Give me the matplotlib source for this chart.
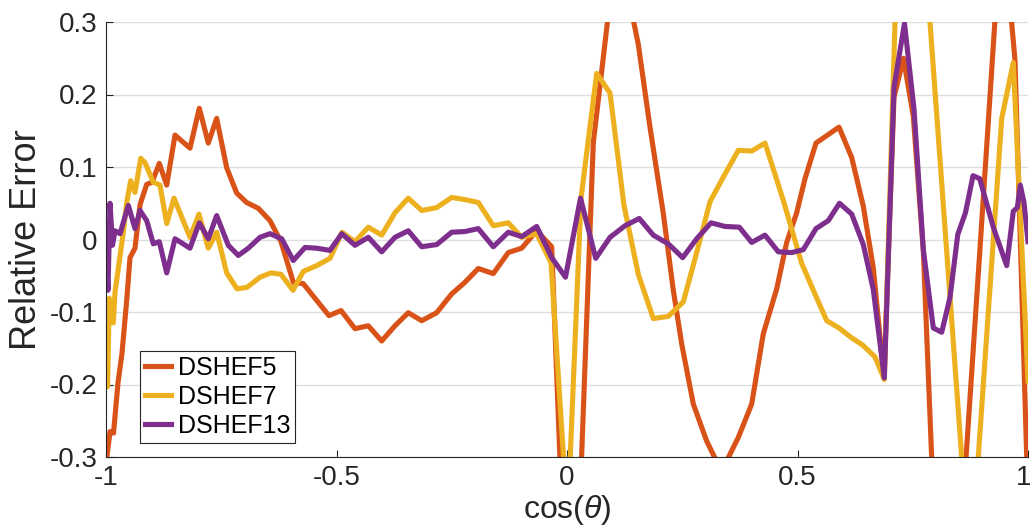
import matplotlib
matplotlib.use("Agg")
import matplotlib.pyplot as plt
import matplotlib.transforms as mtransforms

plt.rcParams['font.family'] = ['Liberation Sans', 'DejaVu Sans']
plt.rcParams['mathtext.fontset'] = 'custom'
plt.rcParams['mathtext.it'] = 'Liberation Sans:italic'
plt.rcParams['axes.unicode_minus'] = False

# DSHEF5 (orange)
x5 = [-1.0, -0.9913, -0.9837, -0.9740, -0.9653, -0.9551, -0.9479, -0.9371, -0.9262, -0.9117,
      -0.9002, -0.8844, -0.8683, -0.8503, -0.8178, -0.7976, -0.7781, -0.7599, -0.7382, -0.7165,
      -0.6948, -0.6696, -0.6443, -0.6204, -0.5937, -0.5720, -0.5430, -0.5163, -0.4902, -0.4599,
      -0.4310, -0.4020, -0.3731, -0.3443, -0.3152, -0.2827, -0.2501, -0.2213, -0.1924, -0.1599,
      -0.1273, -0.0983, -0.0657, -0.0332, 0.0087, 0.0570, 0.1085, 0.1547, 0.1800, 0.2089,
      0.2306, 0.2488, 0.2740, 0.3030, 0.3351, 0.3716, 0.4006, 0.4258, 0.4549, 0.4766,
      0.4983, 0.5163, 0.5401, 0.5900, 0.6176, 0.6427, 0.6644, 0.6876, 0.7093, 0.7299,
      0.7512, 0.7729, 0.8191, 0.8959, 0.9436, 0.9718, 1.0]
y5 = [-0.31, -0.265, -0.267, -0.198, -0.157, -0.084, -0.025, -0.012, 0.048, 0.076,
      0.079, 0.105, 0.075, 0.144, 0.126, 0.181, 0.133, 0.167, 0.099, 0.064,
      0.051, 0.043, 0.026, -0.003, -0.059, -0.061, -0.084, -0.105, -0.098, -0.123,
      -0.119, -0.140, -0.119, -0.101, -0.112, -0.101, -0.075, -0.059, -0.040, -0.047,
      -0.018, -0.012, 0.012, -0.010, -0.692, 0.133, 0.413, 0.269, 0.155, 0.036,
      -0.070, -0.144, -0.227, -0.278, -0.320, -0.273, -0.227, -0.130, -0.068, -0.004,
      0.037, 0.084, 0.133, 0.155, 0.113, 0.046, -0.039, -0.191, 0.196, 0.250,
      0.170, -0.015, -0.743, -0.012, 0.450, 0.247, -0.360]

# DSHEF7 (yellow)
x7 = [-1.0, -0.9967, -0.9928, -0.9842, -0.9805, -0.9733, -0.9625, -0.9551, -0.9464, -0.9371,
      -0.9247, -0.9154, -0.8974, -0.8829, -0.8683, -0.8525, -0.8178, -0.7983, -0.7781, -0.7599,
      -0.7382, -0.7158, -0.6941, -0.6659, -0.6421, -0.6204, -0.5944, -0.5720, -0.5430, -0.5141,
      -0.4881, -0.4599, -0.4310, -0.4020, -0.3731, -0.3443, -0.3152, -0.2827, -0.2501, -0.2213,
      -0.1924, -0.1599, -0.1273, -0.0983, -0.0657, -0.0347, 0.0013, 0.0304, 0.0644, 0.0933,
      0.1236, 0.1547, 0.1872, 0.2197, 0.2523, 0.2813, 0.3102, 0.3390, 0.3716, 0.4006,
      0.4295, 0.4692, 0.5091, 0.5343, 0.5633, 0.5900, 0.6161, 0.6421, 0.6681, 0.6883,
      0.7336, 0.8746, 0.9430, 0.9681, 1.0]
y7 = [-0.167, -0.203, -0.081, -0.115, -0.073, -0.040, 0.010, 0.051, 0.081, 0.065,
      0.112, 0.106, 0.079, 0.075, 0.022, 0.057, 0.003, 0.035, -0.012, 0.010,
      -0.046, -0.068, -0.066, -0.052, -0.046, -0.048, -0.070, -0.044, -0.036, -0.026,
      0.010, -0.003, 0.017, 0.006, 0.037, 0.057, 0.040, 0.044, 0.058, 0.055,
      0.051, 0.019, 0.023, 0.003, 0.008, -0.032, -0.387, 0.057, 0.229, 0.202,
      0.047, -0.048, -0.109, -0.106, -0.086, -0.018, 0.052, 0.086, 0.123, 0.122,
      0.133, 0.054, -0.033, -0.070, -0.112, -0.122, -0.135, -0.146, -0.162, -0.193,
      0.769, -0.461, 0.167, 0.244, -0.195]

# DSHEF13 (purple)
x13 = [-1.0, -0.9957, -0.9913, -0.9859, -0.9805, -0.9696, -0.9516, -0.9371, -0.9262, -0.9117,
       -0.8974, -0.8844, -0.8683, -0.8503, -0.8178, -0.7976, -0.7781, -0.7599, -0.7347, -0.7130,
       -0.6913, -0.6659, -0.6443, -0.6189, -0.5937, -0.5683, -0.5430, -0.5141, -0.4887, -0.4599,
       -0.4310, -0.4020, -0.3731, -0.3443, -0.3152, -0.2827, -0.2501, -0.2213, -0.1924, -0.1599,
       -0.1273, -0.0983, -0.0657, -0.0332, -0.0033, 0.0293, 0.0623, 0.0933, 0.1258, 0.1568,
       0.1872, 0.2197, 0.2510, 0.2813, 0.3124, 0.3427, 0.3738, 0.4006, 0.4295, 0.4584,
       0.4874, 0.5126, 0.5401, 0.5668, 0.5911, 0.6176, 0.6427, 0.6644, 0.6883, 0.7093,
       0.7321, 0.7527, 0.7729, 0.7946, 0.8128, 0.8308, 0.8477, 0.8644, 0.8807, 0.8952,
       0.9247, 0.9538, 0.9681, 0.9768, 0.9833, 0.9913, 1.0]
y13 = [-0.015, -0.070, 0.050, -0.008, 0.012, 0.008, 0.047, 0.015, 0.040, 0.026,
       -0.006, -0.003, -0.046, 0.001, -0.012, 0.023, 0.001, 0.033, -0.008, -0.022,
       -0.012, 0.003, 0.008, 0.001, -0.029, -0.011, -0.012, -0.015, 0.008, -0.008,
       0.003, -0.017, 0.003, 0.012, -0.010, -0.007, 0.010, 0.011, 0.015, -0.010,
       0.010, 0.004, 0.018, -0.025, -0.052, 0.057, -0.026, 0.003, 0.019, 0.029,
       0.006, -0.006, -0.025, 0.001, 0.023, 0.018, 0.017, -0.004, 0.006, -0.017,
       -0.018, -0.014, 0.015, 0.026, 0.050, 0.035, -0.007, -0.069, -0.191, 0.210,
       0.298, 0.180, -0.014, -0.122, -0.128, -0.080, 0.007, 0.037, 0.088, 0.084,
       0.017, -0.036, 0.039, 0.044, 0.075, 0.051, -0.003]

xticks = [-1, -0.5, 0, 0.5, 1]
xtick_labels = ['-1', '-0.5', '0', '0.5', '1']
yticks = [-0.3, -0.2, -0.1, 0, 0.1, 0.2, 0.3]
ytick_labels = ['-0.3', '-0.2', '-0.1', '0', '0.1', '0.2', '0.3']

fig = plt.figure(figsize=(10.30, 5.31), dpi=100)
ax = fig.add_axes([106 / 1030, 74 / 531, 922 / 1030, 435 / 531])

lw = 3.7
ax.plot(x5, y5, color='#D95319', lw=lw, label='DSHEF5')
ax.plot(x7, y7, color='#EDB120', lw=lw, label='DSHEF7')
ax.plot(x13, y13, color='#7E2F8E', lw=lw, label='DSHEF13')

ax.set_xlim(-1, 1)
ax.set_ylim(-0.3, 0.3)
ax.set_xticks(xticks)
ax.set_xticklabels(xtick_labels)
ax.set_yticks(yticks)
ax.set_yticklabels(ytick_labels)
ax.tick_params(direction='in', length=5, width=0.8, colors='#262626',
               labelsize=20, pad=6)
ax.yaxis.grid(True, color='#dedede', lw=1)
ax.set_axisbelow(True)
for side in ['top', 'right']:
    ax.spines[side].set_visible(False)
for side in ['left', 'bottom']:
    ax.spines[side].set_color('#262626')
    ax.spines[side].set_linewidth(0.8)

# keep the last x tick label inside the figure
last = ax.get_xticklabels()[-1]
last.set_transform(last.get_transform() +
                   mtransforms.ScaledTranslation(-4 / 100, 0, fig.dpi_scale_trans))

ax.set_xlabel(r'cos($\theta$)', fontsize=23, color='#262626', labelpad=1)
ax.set_ylabel('Relative Error', fontsize=26, color='#262626', labelpad=4)

leg = ax.legend(loc='lower left', bbox_to_anchor=(0.037, 0.032), borderaxespad=0,
                fontsize=18, fancybox=False, framealpha=1, edgecolor='#262626',
                handlelength=1.05, handletextpad=0.25, borderpad=0.2, labelspacing=0.2)
leg.get_frame().set_linewidth(0.8)

fig.savefig('out.png', dpi=100)
